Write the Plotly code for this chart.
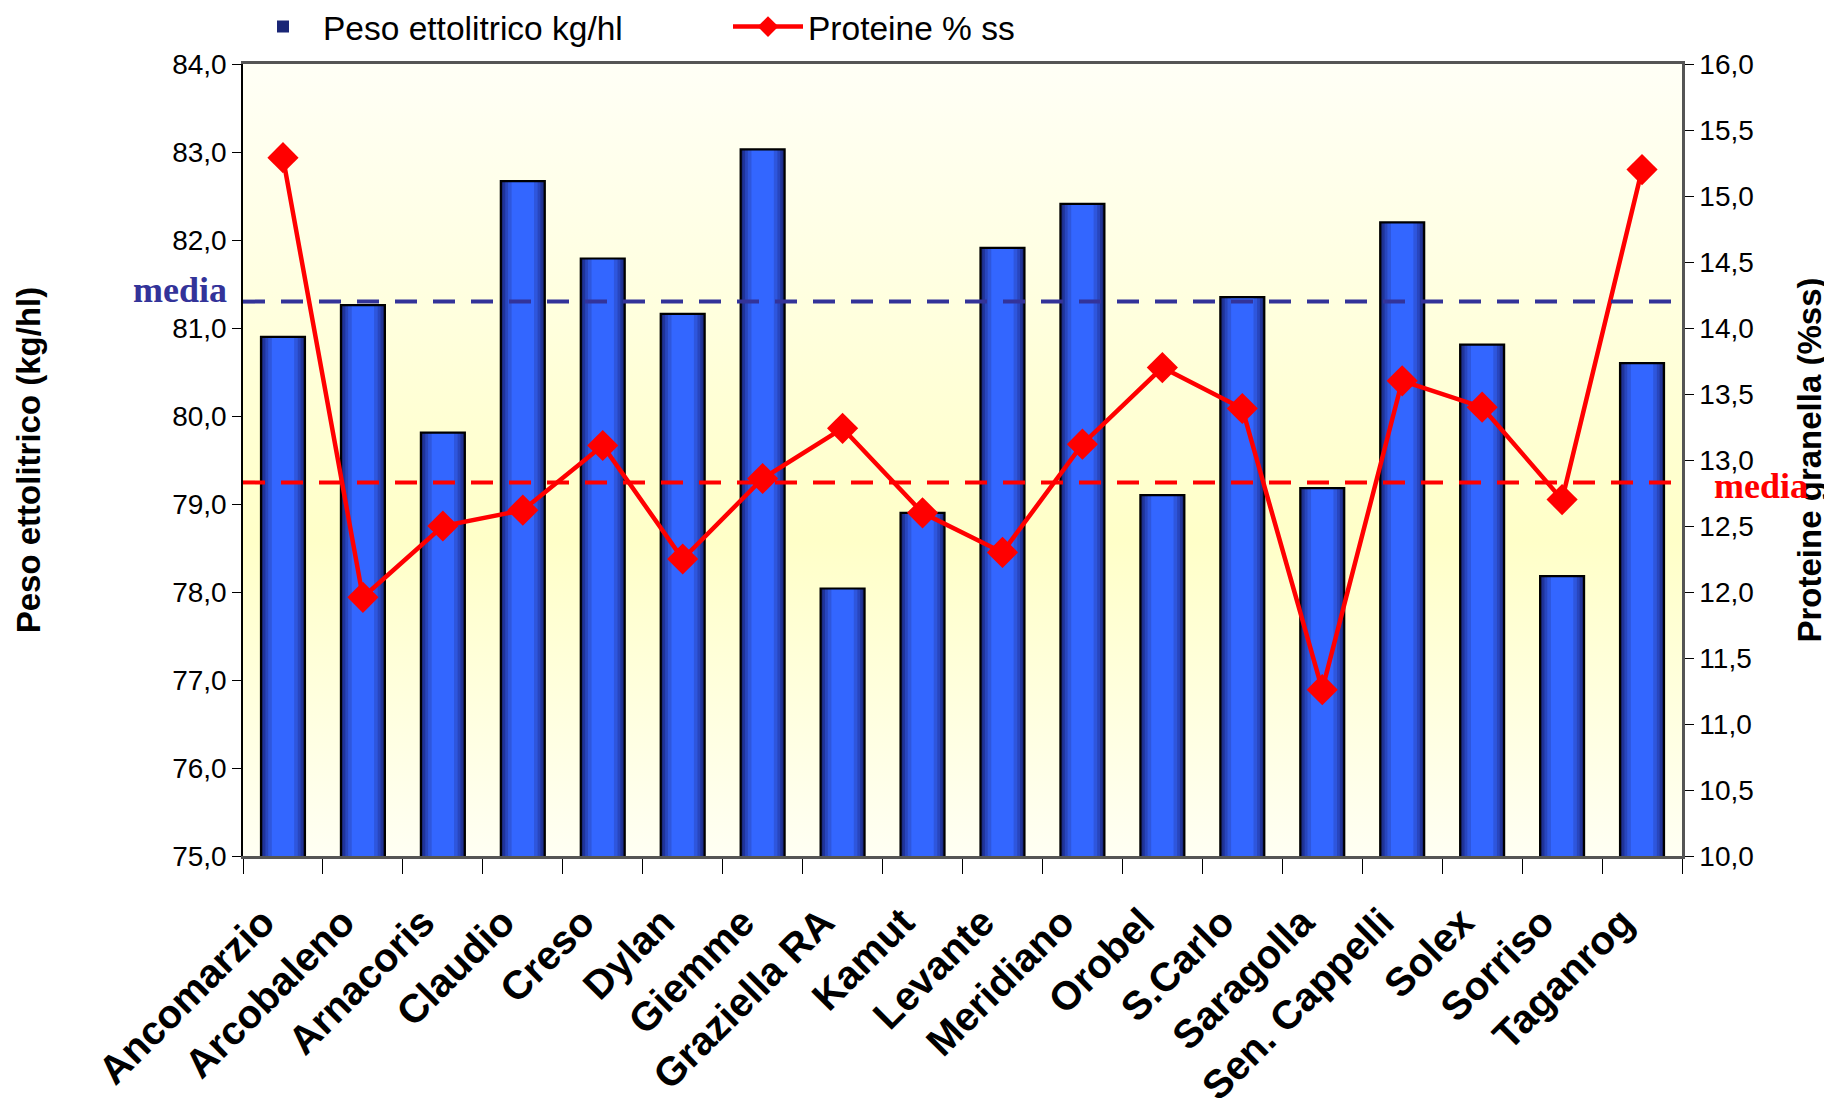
import base64
import plotly.graph_objects as go

# ---------------- data ----------------
varieta = ["Ancomarzio", "Arcobaleno", "Arnacoris", "Claudio", "Creso", "Dylan",
           "Giemme", "Graziella RA", "Kamut", "Levante", "Meridiano", "Orobel",
           "S.Carlo", "Saragolla", "Sen. Cappelli", "Solex", "Sorriso", "Taganrog"]
peso_ettolitrico = [80.90, 81.26, 79.81, 82.67, 81.79, 81.16,
                    83.03, 78.04, 78.90, 81.91, 82.41, 79.10,
                    81.35, 79.18, 82.20, 80.81, 78.18, 80.60]
proteine = [15.29, 11.96, 12.50, 12.62, 13.11, 12.25,
            12.86, 13.24, 12.60, 12.30, 13.12, 13.70,
            13.39, 11.26, 13.60, 13.40, 12.70, 15.20]
media_peso = 81.30
media_proteine = 12.83
peso_ticks = [75, 76, 77, 78, 79, 80, 81, 82, 83, 84]
proteine_ticks = [10.0, 10.5, 11.0, 11.5, 12.0, 12.5, 13.0, 13.5, 14.0, 14.5, 15.0, 15.5, 16.0]

W, H = 1832, 1109
# page body adds an 8px offset; margins compensate for it
ML, MR, MT, MB = 235, 158, 56, 261

fig = go.Figure()

# bars: simulated horizontal gradient by overlaying narrowing bars
layers = [(0.55, "#1A2676"), (0.50, "#203498"), (0.44, "#2846BE"),
          (0.37, "#2E56DD"), (0.28, "#3366FF")]
for i, (w, c) in enumerate(layers):
    fig.add_trace(go.Bar(
        x=varieta, y=peso_ettolitrico, width=w,
        marker=dict(color=c, line=dict(width=0)),
        name="Peso ettolitrico kg/hl", showlegend=(i == 0),
        legendrank=1, hoverinfo="skip" if i else None,
    ))
# outline on top
fig.add_trace(go.Bar(
    x=varieta, y=peso_ettolitrico, width=0.55,
    marker=dict(color="rgba(0,0,0,0)", line=dict(width=2.2, color="#000000")),
    showlegend=False, hoverinfo="skip",
))

fig.add_trace(go.Scatter(
    x=varieta, y=proteine, yaxis="y2", mode="lines+markers",
    name="Proteine % ss", legendrank=2,
    line=dict(color="#FF0000", width=4.5),
    marker=dict(symbol="diamond", size=24, color="#FF0000"),
))

# background gradient for the plot area
svg = ('<svg xmlns="http://www.w3.org/2000/svg" width="100" height="100" '
       'preserveAspectRatio="none"><defs><linearGradient id="g" x1="0" y1="0" x2="0" y2="1">'
       '<stop offset="0" stop-color="#FFFFF6"/><stop offset="0.6" stop-color="#FFFFC8"/>'
       '<stop offset="1" stop-color="#FFFFF3"/></linearGradient></defs>'
       '<rect width="100" height="100" fill="url(#g)"/></svg>')
svg_uri = "data:image/svg+xml;base64," + base64.b64encode(svg.encode()).decode()

fig.update_layout(
    width=W, height=H,
    margin=dict(l=ML, r=MR, t=MT, b=MB, autoexpand=False),
    paper_bgcolor="white", plot_bgcolor="#FFFFE6",
    barmode="overlay", separators=",.",
    font=dict(family="Liberation Sans, Arial, sans-serif", size=28, color="#000000"),
    images=[dict(source=svg_uri, xref="paper", yref="paper", x=0, y=1,
                 sizex=1, sizey=1, sizing="stretch", layer="below",
                 xanchor="left", yanchor="top")],
    legend=dict(orientation="h", x=0, xanchor="left", y=1.047, yanchor="middle",
                font=dict(size=33.5), itemwidth=70, entrywidth=400,
                bgcolor="rgba(0,0,0,0)", traceorder="normal"),
    xaxis=dict(
        type="category", range=[-0.5, len(varieta) - 0.5],
        showline=True, linecolor="#555555", linewidth=2.5,
        mirror=True, ticks="outside", tickson="boundaries", ticklen=15,
        tickcolor="#000000", tickwidth=1.2, tickangle=-45,
        tickfont=dict(size=40, weight="bold"), ticklabelstandoff=24,
        ticklabelshift=-20,
        showgrid=False, zeroline=False,
    ),
    yaxis=dict(
        range=[75, 84], tickvals=peso_ticks, tickformat=".1f",
        showline=True, linecolor="#000000", linewidth=1.5,
        ticks="outside", ticklen=9, tickcolor="#000000",
        showgrid=False, zeroline=False,
        title=dict(text="Peso ettolitrico (kg/hl)", standoff=122,
                   font=dict(size=33, weight="bold")),
    ),
    yaxis2=dict(
        range=[10, 16], tickvals=proteine_ticks, tickformat=".1f",
        overlaying="y", side="right",
        showline=True, linecolor="#555555", linewidth=2.5,
        ticks="outside", ticklen=9, tickcolor="#000000",
        showgrid=False, zeroline=False,
        title=dict(text="Proteine granella (%ss)", standoff=46,
                   font=dict(size=33, weight="bold")),
    ),
    shapes=[
        dict(type="line", xref="paper", x0=0, x1=1, yref="y", y0=media_peso, y1=media_peso,
             line=dict(color="#333399", width=4, dash="22px,16px"), layer="above"),
        dict(type="line", xref="paper", x0=0, x1=1, yref="y2", y0=media_proteine, y1=media_proteine,
             line=dict(color="#FF0000", width=4, dash="22px,16px"), layer="above"),
    ],
    annotations=[
        dict(text="media", xref="paper", x=0, xanchor="right", xshift=-14,
             yref="y", y=media_peso, yanchor="bottom", yshift=-10, showarrow=False,
             font=dict(family="Liberation Serif, Times New Roman, serif", size=36,
                       weight="bold", color="#333399")),
        dict(text="media", xref="paper", x=1, xanchor="left", xshift=30,
             yref="y2", y=media_proteine, yanchor="middle", yshift=-4, showarrow=False,
             font=dict(family="Liberation Serif, Times New Roman, serif", size=36,
                       weight="bold", color="#FF0000")),
    ],
)

fig.write_html("out.html")
